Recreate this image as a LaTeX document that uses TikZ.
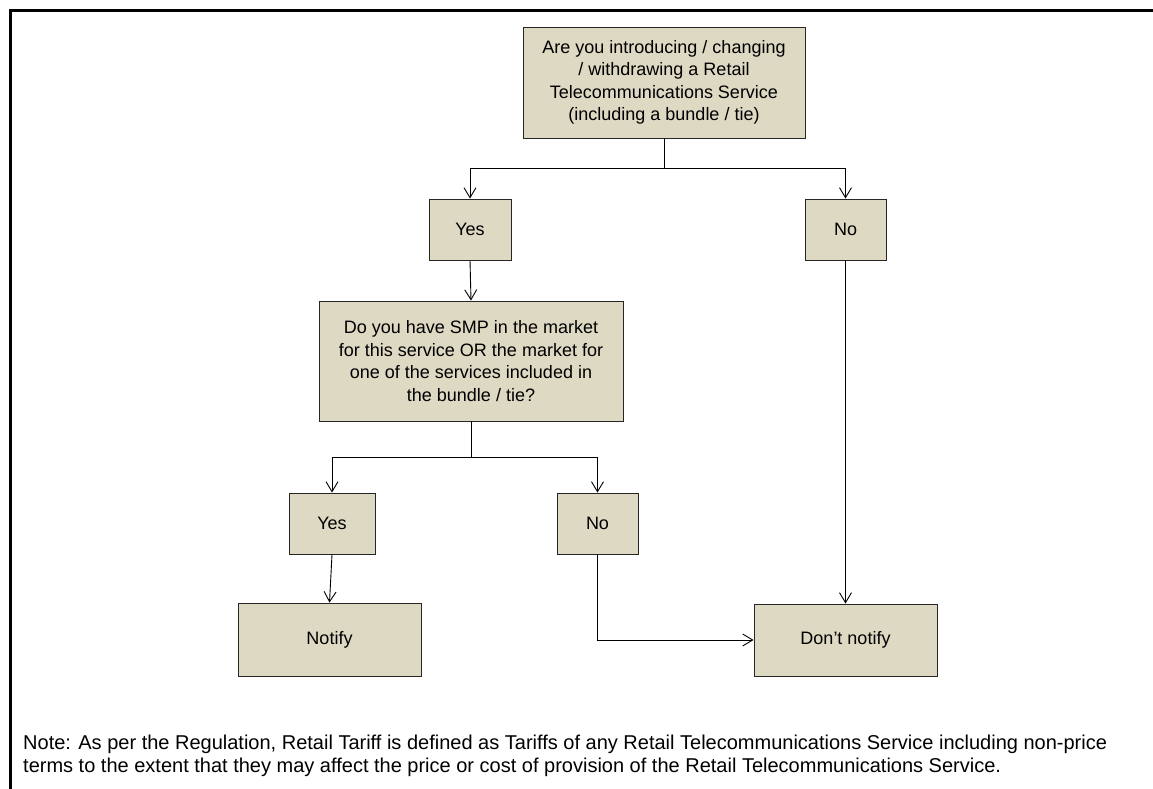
\documentclass[tikz,border=0pt]{standalone}
\usepackage{fontspec}
\setmainfont{Liberation Sans}
\usetikzlibrary{arrows.meta}
\definecolor{boxtan}{HTML}{DDD9C3}
\begin{document}
\begin{tikzpicture}[x=1pt, y=-1pt,
    box/.style={draw=black!85, line width=0.9pt, fill=boxtan, align=center, inner sep=0pt,
        font=\fontsize{18}{22.4}\selectfont},
    arr/.style={-{Straight Barb[length=10pt, width=12pt]}, line width=0.9pt},
    link/.style={line width=0.9pt}]
            \useasboundingbox (0,0) rectangle (1153,789);
            % Frame
            \draw[line width=2.5pt] (10.5,789) -- (10.5,10.5) -- (1153,10.5);
            % Boxes
            \node[box, minimum width=282, minimum height=111] (ask) at (664,82.5) {Are you introducing / changing\\/ withdrawing a Retail\\Telecommunications Service\\(including a bundle / tie)};
            \node[box, minimum width=82, minimum height=61] (yesa) at (470,229.5) {Yes};
            \node[box, minimum width=81, minimum height=61] (noa) at (845.5,229.5) {No};
            \node[box, minimum width=304, minimum height=120] (smp) at (471,361) {Do you have SMP in the market\\for this service OR the market for\\one of the services included in\\the bundle / tie?};
            \node[box, minimum width=86, minimum height=61] (yesb) at (332,523.5) {Yes};
            \node[box, minimum width=81, minimum height=61] (nob) at (597.5,523.5) {No};
            \node[box, minimum width=183, minimum height=73] (notify) at (329.5,639.5) {Notify};
            \node[box, minimum width=183, minimum height=72] (dont) at (845.5,640) {Don’t notify};
            % Branches
            \coordinate (splita) at (664,168);
            \coordinate (splitb) at (471,457);
            \draw[link] (ask.south) -- (splita);
            \draw[arr] (splita) -| (yesa.north);
            \draw[arr] (splita) -| (noa.north);
            \draw[arr] (yesa.south) -- (smp.north);
            \draw[link] (smp.south) -- (splitb);
            \draw[arr] (splitb) -| (yesb.north);
            \draw[arr] (splitb) -| (nob.north);
            \draw[arr] (yesb.south) -- (notify.north);
            \draw[arr] (nob.south) |- (dont.west);
            \draw[arr] (noa.south) -- (dont.north);
            % Note
            \node[anchor=base west, align=left, inner sep=0pt, font=\fontsize{20}{22.5}\selectfont] (note) at (23,772) {Note: As per the Regulation, Retail Tariff is defined as Tariffs of any Retail Telecommunications Service including non-price\\terms to the extent that they may affect the price or cost of provision of the Retail Telecommunications Service.};
        \end{tikzpicture}
\end{document}
